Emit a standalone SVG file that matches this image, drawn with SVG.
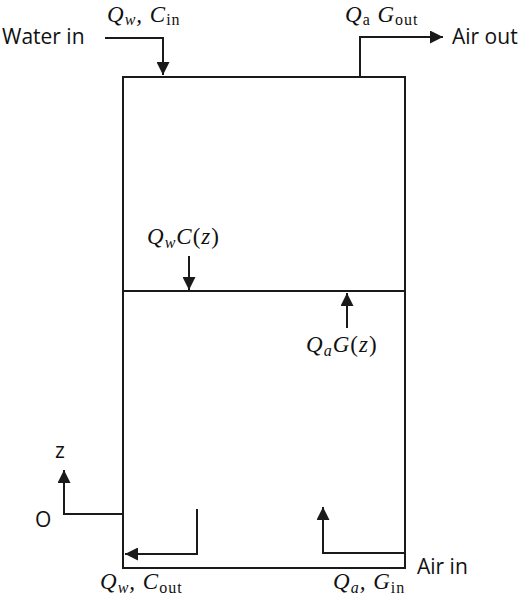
<svg xmlns="http://www.w3.org/2000/svg" width="522" height="600" viewBox="0 0 522 600">
<style>
.ln{fill:none;stroke:#1a1a1a;stroke-width:2}
.lbl{font-family:"Open Sans","Noto Sans","Liberation Sans",sans-serif;font-size:21px;fill:#111}
.m{font-family:"Liberation Serif","DejaVu Serif",serif;font-size:23px;fill:#111;font-style:italic;letter-spacing:1px}
.r{font-style:normal}
</style>
<defs>
<marker id="ah" viewBox="0 0 10 10" refX="10" refY="5" markerWidth="6.5" markerHeight="6.5" orient="auto" markerUnits="strokeWidth">
<path d="M0,0 L10,5 L0,10 z" fill="#1a1a1a"/>
</marker>
</defs>
<rect width="522" height="600" fill="#fff"/>
<g id="column">
<rect x="123" y="77" width="282" height="491" class="ln"/>
<line x1="123" y1="291" x2="405" y2="291" class="ln"/>
</g>
<g id="connectors">
<polyline points="105,38 163,38 163,75" class="ln" marker-end="url(#ah)"/>
<polyline points="360,77 360,37 443,37" class="ln" marker-end="url(#ah)"/>
<line x1="189" y1="256" x2="189" y2="290" class="ln" marker-end="url(#ah)"/>
<line x1="347" y1="328" x2="347" y2="293" class="ln" marker-end="url(#ah)"/>
<polyline points="123,514 64,514 64,470" class="ln" marker-end="url(#ah)"/>
<polyline points="197,509 197,554 125,554" class="ln" marker-end="url(#ah)"/>
<polyline points="405,553 323,553 323,507" class="ln" marker-end="url(#ah)"/>
</g>
<g id="labels">
<text class="lbl" x="2" y="44">Water in</text>
<text class="lbl" x="452" y="44">Air out</text>
<text class="lbl" x="417" y="574">Air in</text>
<text class="lbl" x="35" y="527">O</text>
<text class="lbl" x="55" y="458">z</text>
<text class="m" x="107" y="22">Q<tspan font-size="16" dy="3">w</tspan><tspan dy="-3">, C</tspan><tspan class="r" font-size="16" dy="3">in</tspan></text>
<text class="m" x="345" y="22">Q<tspan class="r" font-size="16" dy="3">a</tspan><tspan dy="-3"> G</tspan><tspan class="r" font-size="16" dy="3">out</tspan></text>
<text class="m" x="147" y="244">Q<tspan font-size="16" dy="4">w</tspan><tspan dy="-4">C</tspan><tspan class="r">(</tspan>z<tspan class="r">)</tspan></text>
<text class="m" x="306" y="352">Q<tspan font-size="16" dy="4">a</tspan><tspan dy="-4">G</tspan><tspan class="r">(</tspan>z<tspan class="r">)</tspan></text>
<text class="m" x="100" y="589">Q<tspan font-size="16" dy="4">w</tspan><tspan dy="-4">, C</tspan><tspan class="r" font-size="16" dy="4">out</tspan></text>
<text class="m" x="333" y="589">Q<tspan font-size="16" dy="4">a</tspan><tspan dy="-4">, G</tspan><tspan class="r" font-size="16" dy="4">in</tspan></text>
</g>
</svg>
